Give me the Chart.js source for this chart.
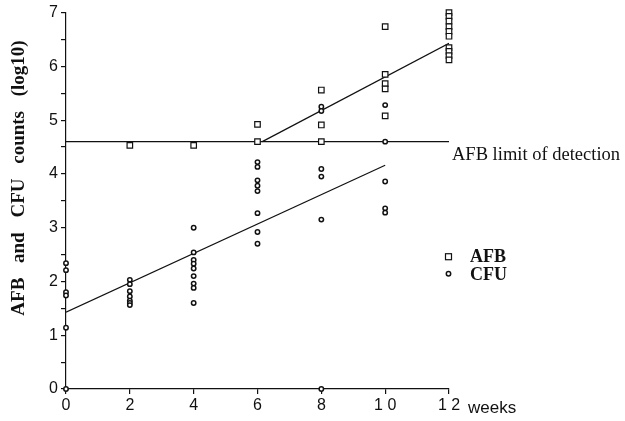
<!DOCTYPE html>
<html lang="en">
<head>
<meta charset="UTF-8" />
<title>AFB and CFU counts</title>
<style>
  html, body { margin: 0; padding: 0; background: #fff; }
  #wrap { width: 625px; height: 421px; }
</style>
</head>
<body>
<div id="wrap"><canvas id="chart" width="625" height="421"></canvas></div>
<script src="https://cdn.jsdelivr.net/npm/chart.js@4.4.0/dist/chart.umd.min.js"></script>
<script>
  // data (log10 counts)
  const afbWeeks = [2, 4, 6, 6, 8, 8, 8, 10, 10, 10, 10, 10, 12, 12, 12, 12, 12, 12, 12, 12, 12, 12];
  const afbCounts = [4.53, 4.53, 4.92, 4.6, 5.56, 4.91, 4.6, 6.74, 5.85, 5.68, 5.58, 5.08, 7.0, 6.93, 6.84, 6.74, 6.65, 6.56, 6.35, 6.28, 6.2, 6.12];

  const cfuWeeks = [0, 0, 0, 0, 0, 0, 2, 2, 2, 2, 2, 2, 2, 4, 4, 4, 4, 4, 4, 4, 4, 4, 6, 6, 6, 6, 6, 6, 6, 6, 8, 8, 8, 8, 8, 8, 10, 10, 10, 10, 10];
  const cfuCounts = [2.34, 2.21, 1.8, 1.74, 1.14, 0, 2.03, 1.95, 1.82, 1.72, 1.64, 1.6, 1.56, 3.0, 2.54, 2.4, 2.33, 2.24, 2.1, 1.96, 1.88, 1.6, 4.22, 4.13, 3.88, 3.78, 3.68, 3.27, 2.92, 2.7, 5.25, 5.17, 4.09, 3.95, 3.15, 0, 5.28, 4.6, 3.86, 3.36, 3.28];

  // fitted lines and detection limit
  const limitX = [0, 12];
  const limitY = [4.6, 4.6];
  const afbFitX = [6.15, 12];
  const afbFitY = [4.6, 6.43];
  const cfuFitX = [0, 10];
  const cfuFitY = [1.43, 4.16];

  const xTickLabels = { 0: '0', 2: '2', 4: '4', 6: '6', 8: '8', 10: '1 0', 12: '1 2' };
  const yTitle = 'AFB and CFU counts (log10)';

  const pts = (xs, ys) => xs.map((x, i) => ({ x: x, y: ys[i] }));

  const extraText = {
    id: 'extraText',
    afterDraw(chart) {
      const ctx = chart.ctx, xs = chart.scales.x, ys = chart.scales.y;
      const x12 = xs.getPixelForValue(12);
      ctx.save();
      ctx.fillStyle = '#111';
      ctx.textBaseline = 'middle';
      ctx.textAlign = 'left';

      // detection limit label, just right of the line end
      ctx.font = '18.5px "Liberation Serif", serif';
      ctx.fillText('AFB limit of detection', x12 + 3, ys.getPixelForValue(4.6) + 13);

      // legend
      const ly1 = ys.getPixelForValue(2.46), ly2 = ly1 + 17;
      ctx.strokeStyle = '#111';
      ctx.lineWidth = 1.2;
      ctx.strokeRect(x12 - 3.5, ly1 - 3, 6, 6);
      ctx.beginPath();
      ctx.arc(x12 - 0.5, ly2, 2.2, 0, Math.PI * 2);
      ctx.lineWidth = 1.5;
      ctx.stroke();
      ctx.font = 'bold 18px "Liberation Serif", serif';
      ctx.fillText('AFB', x12 + 21, ly1 + 1);
      ctx.fillText('CFU', x12 + 21, ly2 + 2);

      // axis unit after the last tick
      ctx.font = '17px "Liberation Sans", Arial, sans-serif';
      ctx.fillText('weeks', x12 + 19, xs.bottom - 13);

      // y axis title
      ctx.translate(19, 178);
      ctx.rotate(-Math.PI / 2);
      ctx.textAlign = 'center';
      ctx.font = 'bold 19px "Liberation Serif", serif';
      ctx.wordSpacing = '10px';
      ctx.fillText(yTitle, 0, 0);
      ctx.restore();
    }
  };

  new Chart(document.getElementById('chart'), {
    type: 'scatter',
    data: {
      datasets: [
        {
          label: 'AFB',
          data: pts(afbWeeks, afbCounts),
          pointStyle: 'rect',
          pointRadius: 3.9,
          borderColor: '#111',
          backgroundColor: '#fff',
          borderWidth: 1.2,
          clip: false
        },
        {
          label: 'CFU',
          data: pts(cfuWeeks, cfuCounts),
          pointStyle: 'circle',
          pointRadius: 2.2,
          borderColor: '#111',
          backgroundColor: '#fff',
          borderWidth: 1.5,
          clip: false
        },
        {
          type: 'line',
          label: 'limit',
          data: pts(limitX, limitY),
          borderColor: '#111',
          borderWidth: 1.2,
          pointRadius: 0,
          fill: false
        },
        {
          type: 'line',
          label: 'AFB fit',
          data: pts(afbFitX, afbFitY),
          borderColor: '#111',
          borderWidth: 1.2,
          pointRadius: 0,
          fill: false
        },
        {
          type: 'line',
          label: 'CFU fit',
          data: pts(cfuFitX, cfuFitY),
          borderColor: '#111',
          borderWidth: 1.2,
          pointRadius: 0,
          fill: false
        }
      ]
    },
    options: {
      responsive: false,
      animation: false,
      layout: { padding: { left: 0, right: 176, top: 12, bottom: 0 } },
      plugins: {
        legend: { display: false },
        tooltip: { enabled: false }
      },
      scales: {
        x: {
          type: 'linear',
          min: 0,
          max: 12,
          afterBuildTicks: (s) => { s.ticks = [0, 2, 4, 6, 8, 10, 12].map(v => ({ value: v })); },
          afterFit: (s) => { s.height = 32; },
          grid: { drawOnChartArea: false, drawTicks: true, tickLength: 5, color: '#111', lineWidth: 1.2 },
          border: { color: '#111', width: 1.2 },
          ticks: {
            color: '#111',
            padding: 2,
            maxRotation: 0,
            font: { family: '"Liberation Sans", Arial, sans-serif', size: 16 },
            callback: (v) => xTickLabels[v] !== undefined ? xTickLabels[v] : ''
          }
        },
        y: {
          type: 'linear',
          min: 0,
          max: 7,
          afterBuildTicks: (s) => {
            const t = [];
            for (let v = 0; v <= 7; v += 0.5) t.push({ value: v });
            s.ticks = t;
          },
          afterFit: (s) => { s.width = 66; },
          grid: { drawOnChartArea: false, drawTicks: true, tickLength: 5, color: '#111', lineWidth: 1.2 },
          border: { color: '#111', width: 1.2 },
          ticks: {
            color: '#111',
            padding: 3,
            autoSkip: false,
            font: { family: '"Liberation Sans", Arial, sans-serif', size: 16 },
            callback: (v) => Number.isInteger(v) ? String(v) : ''
          }
        }
      }
    },
    plugins: [extraText]
  });
</script>
</body>
</html>
